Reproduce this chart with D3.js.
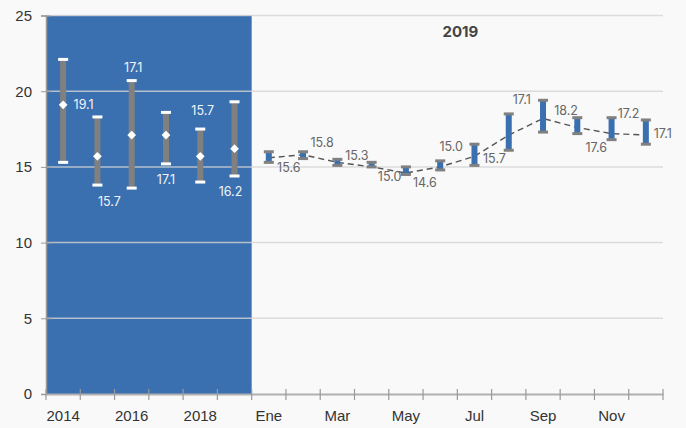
<!DOCTYPE html>
<html>
<head>
<meta charset="utf-8">
<script src="https://cdn.jsdelivr.net/npm/d3@7"></script>
<style>
  body { margin: 0; background: #f9f9f9; }
  svg { display: block; font-family: Inter, "Open Sans", sans-serif; }
</style>
</head>
<body>
<div id="chart"></div>
<script>
// datos anuales
const years = ['2014', '2015', '2016', '2017', '2018', '2019'];
const yearMin = [15.3, 13.8, 13.6, 15.2, 14.0, 14.4];
const yearMax = [22.1, 18.3, 20.7, 18.6, 17.5, 19.3];
const yearMean = [19.1, 15.7, 17.1, 17.1, 15.7, 16.2];

// datos mensuales 2019
const months = ['Ene', 'Feb', 'Mar', 'Abr', 'May', 'Jun', 'Jul', 'Ago', 'Sep', 'Oct', 'Nov', 'Dic'];
const monthMin = [15.3, 15.55, 15.1, 15.0, 14.5, 14.8, 15.1, 16.1, 17.3, 17.2, 16.8, 16.5];
const monthMax = [16.0, 16.0, 15.5, 15.3, 15.0, 15.4, 16.5, 18.5, 19.4, 18.25, 18.25, 18.1];
const monthMean = [15.6, 15.8, 15.3, 15.0, 14.6, 15.0, 15.7, 17.1, 18.2, 17.6, 17.2, 17.1];

const yTicks = [0, 5, 10, 15, 20, 25];

// desplazamiento de etiquetas (dx, dy) respecto al punto medio
const yearLabelOff = [[20.5, 0], [12, 45], [1.5, -68], [0, 44.5], [2.5, -46], [-4, 42.5]];
const monthLabelOff = [[20, 10], [19, -12], [19.5, -6.5], [18, 10], [19, 10], [11, -20],
                       [20, 2.5], [13, -36], [23, -8], [19, 19.5], [17, -20.5], [17, -1.5]];

const width = 686, height = 428;
const margin = {top: 15.5, right: 23, bottom: 34, left: 46};

const categories = years.concat(months);

const svg = d3.select('#chart').append('svg')
  .attr('width', width)
  .attr('height', height);

svg.append('rect').attr('width', width).attr('height', height).attr('fill', '#f9f9f9');

const x = d3.scaleBand()
  .domain(categories)
  .range([margin.left, width - margin.right])
  .padding(0);

const y = d3.scaleLinear()
  .domain([0, 25])
  .range([height - margin.bottom, margin.top]);

const cx = d => x(d) + x.bandwidth() / 2;

// fondo azul del periodo anual
svg.append('rect')
  .attr('x', x(years[0]))
  .attr('y', y(25))
  .attr('width', x(years[years.length - 1]) + x.bandwidth() - x(years[0]))
  .attr('height', y(0) - y(25))
  .attr('fill', '#3a6fb0');

// lineas de cuadricula
svg.append('g')
  .selectAll('line')
  .data(yTicks.filter(t => t > 0))
  .join('line')
  .attr('x1', x.range()[0])
  .attr('x2', x.range()[1])
  .attr('y1', d => y(d))
  .attr('y2', d => y(d))
  .attr('stroke', '#d4d4d4')
  .attr('stroke-opacity', 0.8)
  .attr('stroke-width', 1.5);

// eje y
const yAxis = svg.append('g')
  .attr('transform', `translate(${margin.left},0)`)
  .call(d3.axisLeft(y).tickValues(yTicks).tickSize(5).tickPadding(9));
yAxis.select('.domain').attr('stroke', '#9a9a9a').attr('stroke-width', 1.5);
yAxis.selectAll('.tick line').attr('stroke', '#9a9a9a').attr('x2', -5).attr('x1', 5);
yAxis.selectAll('.tick text').attr('font-size', 15).attr('fill', '#333');

// eje x
const xAxis = svg.append('g')
  .attr('transform', `translate(0,${y(0)})`)
  .call(d3.axisBottom(x)
    .tickValues(categories.filter((d, i) => i % 2 === 0))
    .tickSize(0)
    .tickPadding(16));
xAxis.select('.domain').attr('stroke', '#b0b0b0').attr('stroke-width', 2);
xAxis.selectAll('.tick text').attr('font-size', 15).attr('fill', '#333');

// marcas entre categorias
svg.append('g')
  .selectAll('line')
  .data(categories.concat(['fin']))
  .join('line')
  .attr('x1', (d, i) => i < categories.length ? x(d) : x.range()[1])
  .attr('x2', (d, i) => i < categories.length ? x(d) : x.range()[1])
  .attr('y1', y(0) - 5)
  .attr('y2', y(0) + 6)
  .attr('stroke', '#9a9a9a')
  .attr('stroke-width', 1.2);

// barras anuales
const yearData = years.map((d, i) => ({cat: d, min: yearMin[i], max: yearMax[i], mean: yearMean[i], off: yearLabelOff[i]}));

const yg = svg.append('g');
yg.selectAll('rect.rango')
  .data(yearData)
  .join('rect')
  .attr('class', 'rango')
  .attr('x', d => cx(d.cat) - 3)
  .attr('y', d => y(d.max))
  .attr('width', 6)
  .attr('height', d => y(d.min) - y(d.max))
  .attr('fill', '#808080');

yg.selectAll('rect.tapa')
  .data(yearData.flatMap(d => [{cat: d.cat, v: d.max}, {cat: d.cat, v: d.min}]))
  .join('rect')
  .attr('class', 'tapa')
  .attr('x', d => cx(d.cat) - 5)
  .attr('y', d => y(d.v) - 1.5)
  .attr('width', 10)
  .attr('height', 3)
  .attr('fill', '#fff');

yg.selectAll('path.media')
  .data(yearData)
  .join('path')
  .attr('class', 'media')
  .attr('d', d3.symbol(d3.symbolSquare).size(38))
  .attr('transform', d => `translate(${cx(d.cat)},${y(d.mean)}) rotate(45)`)
  .attr('fill', '#fff');

yg.selectAll('text')
  .data(yearData)
  .join('text')
  .attr('x', d => cx(d.cat) + d.off[0])
  .attr('y', d => y(d.mean) + d.off[1])
  .attr('text-anchor', 'middle')
  .attr('dominant-baseline', 'central')
  .attr('font-size', 12.5)
  .attr('fill', '#f2f4f8')
  .text(d => d.mean.toFixed(1));

// serie mensual 2019
const monthData = months.map((d, i) => ({cat: d, min: monthMin[i], max: monthMax[i], mean: monthMean[i], off: monthLabelOff[i]}));

const mg = svg.append('g');
mg.append('path')
  .datum(monthData)
  .attr('fill', 'none')
  .attr('stroke', '#555')
  .attr('stroke-width', 1.4)
  .attr('stroke-dasharray', '6,4')
  .attr('d', d3.line().x(d => cx(d.cat)).y(d => y(d.mean)));

mg.selectAll('rect.rango')
  .data(monthData)
  .join('rect')
  .attr('class', 'rango')
  .attr('x', d => cx(d.cat) - 3)
  .attr('y', d => y(d.max))
  .attr('width', 6)
  .attr('height', d => y(d.min) - y(d.max))
  .attr('fill', '#3a6fb0');

mg.selectAll('rect.tapa')
  .data(monthData.flatMap(d => [{cat: d.cat, v: d.max}, {cat: d.cat, v: d.min}]))
  .join('rect')
  .attr('class', 'tapa')
  .attr('x', d => cx(d.cat) - 5)
  .attr('y', d => y(d.v) - 1.5)
  .attr('width', 10)
  .attr('height', 3)
  .attr('fill', '#808080');

mg.selectAll('text')
  .data(monthData)
  .join('text')
  .attr('x', d => cx(d.cat) + d.off[0])
  .attr('y', d => y(d.mean) + d.off[1])
  .attr('text-anchor', 'middle')
  .attr('dominant-baseline', 'central')
  .attr('font-size', 12.5)
  .attr('fill', '#666')
  .text(d => d.mean.toFixed(1));

// titulo 2019
svg.append('text')
  .attr('x', (x(months[0]) + x.range()[1]) / 2 + 3)
  .attr('y', 31)
  .attr('text-anchor', 'middle')
  .attr('dominant-baseline', 'central')
  .attr('font-size', 15)
  .attr('font-weight', 'bold')
  .attr('fill', '#444')
  .text('2019');
</script>
</body>
</html>
